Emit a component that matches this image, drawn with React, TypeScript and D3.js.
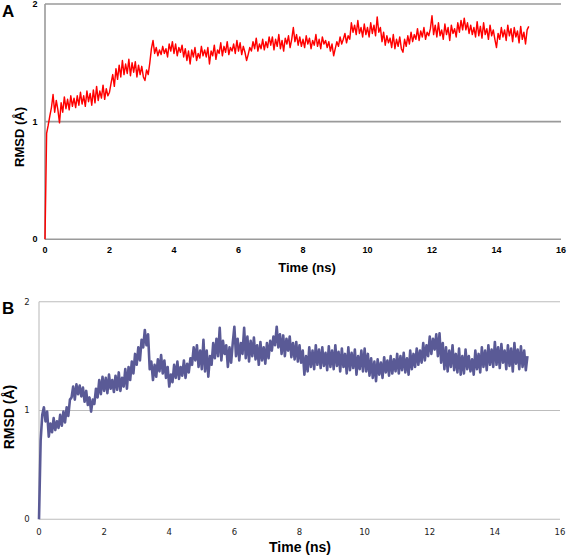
import React from "react";
import * as d3 from "d3";

// Sampling interval of the trajectories (ns)
const timeStepNs = 0.05;
const xTicks = [0, 2, 4, 6, 8, 10, 12, 14, 16];
const yTicks = [0, 1, 2];
const xLabel = "Time (ns)";
const yLabel = "RMSD (Å)";

// Panel A: RMSD (Å), one value per 0.05 ns, 0..15 ns
const rmsdA = [
  0, 0.90, 0.97, 1.05, 1.12, 1.23, 1.08, 1.18, 1.10, 0.99, 1.16, 1.08, 1.21, 1.11, 1.19, 1.10, 1.22, 1.13, 1.20, 1.12,
  1.22, 1.14, 1.25, 1.15, 1.22, 1.13, 1.26, 1.17, 1.24, 1.14, 1.27, 1.16, 1.30, 1.18, 1.26, 1.20, 1.31, 1.19, 1.28, 1.22,
  1.25, 1.33, 1.40, 1.30, 1.45, 1.36, 1.48, 1.38, 1.52, 1.40, 1.49, 1.41, 1.53, 1.39, 1.50, 1.42, 1.51, 1.38, 1.48, 1.40,
  1.47, 1.38, 1.35, 1.44, 1.40, 1.50, 1.62, 1.69, 1.58, 1.63, 1.56, 1.61, 1.57, 1.64, 1.58, 1.62, 1.55, 1.66, 1.60, 1.68,
  1.58, 1.66, 1.56, 1.63, 1.59, 1.65, 1.55, 1.62, 1.52, 1.60, 1.49, 1.61, 1.55, 1.63, 1.52, 1.58, 1.54, 1.64, 1.56, 1.61,
  1.55, 1.63, 1.49, 1.60, 1.56, 1.65, 1.53, 1.61, 1.58, 1.67, 1.56, 1.64, 1.59, 1.68, 1.57, 1.63, 1.60, 1.66, 1.58, 1.69,
  1.60, 1.67, 1.57, 1.64, 1.59, 1.52, 1.57, 1.63, 1.60, 1.68, 1.62, 1.71, 1.60, 1.66, 1.62, 1.70, 1.61, 1.68, 1.63, 1.72,
  1.65, 1.72, 1.61, 1.70, 1.64, 1.74, 1.62, 1.69, 1.60, 1.71, 1.66, 1.73, 1.63, 1.70, 1.80, 1.68, 1.74, 1.65, 1.72, 1.64,
  1.70, 1.63, 1.73, 1.66, 1.71, 1.62, 1.69, 1.65, 1.74, 1.64, 1.70, 1.62, 1.72, 1.66, 1.69, 1.63, 1.68, 1.60, 1.66, 1.56,
  1.62, 1.68, 1.64, 1.72, 1.66, 1.70, 1.75, 1.67, 1.73, 1.70, 1.84, 1.76, 1.82, 1.74, 1.86, 1.75, 1.80, 1.72, 1.83, 1.74,
  1.80, 1.72, 1.84, 1.75, 1.82, 1.73, 1.89, 1.76, 1.80, 1.68, 1.76, 1.65, 1.73, 1.67, 1.71, 1.63, 1.74, 1.62, 1.70, 1.64,
  1.72, 1.62, 1.59, 1.70, 1.64, 1.73, 1.66, 1.76, 1.68, 1.74, 1.70, 1.79, 1.69, 1.77, 1.72, 1.80, 1.70, 1.76, 1.73, 1.79,
  1.90, 1.74, 1.82, 1.72, 1.84, 1.73, 1.78, 1.70, 1.83, 1.74, 1.80, 1.69, 1.82, 1.75, 1.79, 1.72, 1.84, 1.76, 1.86, 1.78,
  1.88, 1.78, 1.84, 1.75, 1.82, 1.74, 1.80, 1.72, 1.85, 1.73, 1.81, 1.71, 1.84, 1.74, 1.79, 1.70, 1.82, 1.73, 1.78, 1.70,
  1.63, 1.75, 1.70, 1.80, 1.72, 1.78, 1.69, 1.82, 1.73, 1.79, 1.68, 1.80, 1.72, 1.77, 1.67, 1.81, 1.70, 1.76, 1.66, 1.78,
  1.81,
];

// Panel B: RMSD (Å), one value per 0.05 ns, 0..15 ns
const rmsdB = [
  0, 0.72, 0.96, 1.03, 0.90, 0.99, 0.76, 0.88, 0.80, 0.93, 0.82, 0.90, 0.84, 0.96, 0.86, 0.99, 0.89, 1.03, 0.95, 1.10,
  1.12, 1.22, 1.10, 1.24, 1.15, 1.23, 1.13, 1.21, 1.08, 1.18, 1.05, 1.12, 0.99, 1.10, 1.06, 1.20, 1.12, 1.28, 1.15, 1.31,
  1.18, 1.30, 1.16, 1.33, 1.20, 1.28, 1.17, 1.32, 1.19, 1.35, 1.18, 1.30, 1.22, 1.38, 1.20, 1.40, 1.28, 1.45, 1.34, 1.52,
  1.42, 1.58, 1.46, 1.65, 1.58, 1.74, 1.60, 1.70, 1.38, 1.45, 1.28, 1.42, 1.31, 1.47, 1.36, 1.51, 1.34, 1.46, 1.30, 1.40,
  1.22, 1.33, 1.26, 1.42, 1.30, 1.45, 1.29, 1.40, 1.32, 1.46, 1.30, 1.43, 1.35, 1.48, 1.42, 1.58, 1.46, 1.60, 1.40, 1.55,
  1.38, 1.65, 1.36, 1.55, 1.31, 1.50, 1.42, 1.62, 1.48, 1.66, 1.50, 1.76, 1.46, 1.64, 1.52, 1.60, 1.40, 1.58, 1.44, 1.62,
  1.77, 1.50, 1.66, 1.46, 1.62, 1.52, 1.76, 1.48, 1.68, 1.45, 1.64, 1.50, 1.67, 1.47, 1.60, 1.42, 1.63, 1.46, 1.58, 1.43,
  1.62, 1.48, 1.64, 1.55, 1.68, 1.60, 1.77, 1.58, 1.70, 1.52, 1.69, 1.50, 1.66, 1.55, 1.68, 1.49, 1.62, 1.47, 1.63, 1.45,
  1.60, 1.44, 1.55, 1.33, 1.50, 1.36, 1.58, 1.40, 1.55, 1.38, 1.60, 1.42, 1.56, 1.39, 1.58, 1.41, 1.53, 1.37, 1.59, 1.40,
  1.55, 1.38, 1.60, 1.41, 1.54, 1.36, 1.57, 1.40, 1.52, 1.34, 1.58, 1.37, 1.53, 1.39, 1.56, 1.33, 1.50, 1.38, 1.55, 1.36,
  1.57, 1.36, 1.52, 1.32, 1.48, 1.30, 1.45, 1.27, 1.47, 1.33, 1.44, 1.30, 1.49, 1.35, 1.46, 1.32, 1.50, 1.34, 1.47, 1.36,
  1.52, 1.34, 1.50, 1.37, 1.53, 1.35, 1.48, 1.33, 1.55, 1.38, 1.52, 1.40, 1.57, 1.42, 1.55, 1.44, 1.62, 1.46, 1.60, 1.50,
  1.68, 1.52, 1.66, 1.56, 1.70, 1.50, 1.71, 1.44, 1.62, 1.38, 1.58, 1.36, 1.55, 1.40, 1.60, 1.37, 1.52, 1.35, 1.57, 1.33,
  1.50, 1.34, 1.56, 1.38, 1.50, 1.36, 1.47, 1.33, 1.55, 1.38, 1.52, 1.35, 1.58, 1.40, 1.55, 1.37, 1.60, 1.42, 1.56, 1.40,
  1.63, 1.42, 1.58, 1.39, 1.61, 1.44, 1.55, 1.38, 1.60, 1.41, 1.57, 1.36, 1.62, 1.43, 1.56, 1.38, 1.59, 1.40, 1.55, 1.37,
  1.50,
];

type PanelProps = {
  data: number[];
  letter: string;
  left: number;
  right: number;
  top: number;
  bottom: number;
  color: string;
  lineWidth: number;
  gridColor: string;
  gridWidth: number;
  tickFont: string;
  tickSize: number;
  tickWeight: string;
  tickColor: string;
  yTickX: number;
  xTickY: number;
  xLabelX: number;
  xLabelY: number;
  labelSize: number;
  yLabelX: number;
  yLabelY: number;
  letterX: number;
  letterY: number;
};

function Panel(p: PanelProps) {
  const x = d3.scaleLinear().domain([0, 16]).range([p.left, p.right]);
  const y = d3.scaleLinear().domain([0, 2]).range([p.bottom, p.top]);
  const line = d3
    .line<number>()
    .x((_, i) => x(i * timeStepNs))
    .y((d) => y(d));
  return (
    <g>
      {yTicks.map((t) => (
        <line
          key={"g" + t}
          x1={p.left}
          x2={p.right}
          y1={y(t)}
          y2={y(t)}
          stroke={p.gridColor}
          strokeWidth={p.gridWidth}
        />
      ))}
      <line x1={p.left} x2={p.left} y1={p.top} y2={p.bottom} stroke={p.gridColor} strokeWidth={p.gridWidth} />
      <path
        d={line(p.data) || ""}
        fill="none"
        stroke={p.color}
        strokeWidth={p.lineWidth}
        strokeLinejoin="round"
      />
      {yTicks.map((t) => (
        <text
          key={"y" + t}
          x={p.yTickX}
          y={y(t)}
          dy="0.35em"
          textAnchor="middle"
          fontFamily={p.tickFont}
          fontSize={p.tickSize}
          fontWeight={p.tickWeight}
          fill={p.tickColor}
        >
          {t}
        </text>
      ))}
      {xTicks.map((t) => (
        <text
          key={"x" + t}
          x={x(t)}
          y={p.xTickY}
          dy="0.35em"
          textAnchor="middle"
          fontFamily={p.tickFont}
          fontSize={p.tickSize}
          fontWeight={p.tickWeight}
          fill={p.tickColor}
        >
          {t}
        </text>
      ))}
      <text
        x={p.xLabelX}
        y={p.xLabelY}
        textAnchor="middle"
        fontFamily="Liberation Sans, Arial, sans-serif"
        fontWeight="bold"
        fontSize={p.labelSize}
        fill="#000"
      >
        {xLabel}
      </text>
      <text
        transform={`translate(${p.yLabelX},${p.yLabelY}) rotate(-90)`}
        textAnchor="middle"
        dy="0.35em"
        fontFamily="Liberation Sans, Arial, sans-serif"
        fontWeight="bold"
        fontSize={p.labelSize}
        fill="#000"
      >
        {yLabel}
      </text>
      <text
        x={p.letterX}
        y={p.letterY}
        fontFamily="Liberation Sans, Arial, sans-serif"
        fontWeight="bold"
        fontSize={17}
        fill="#000"
      >
        {p.letter}
      </text>
    </g>
  );
}

export default function App() {
  return (
    <svg
      width={567}
      height={557}
      style={{ position: "absolute", left: 0, top: 0, background: "#fff" }}
    >
      <rect x={0} y={0} width={567} height={557} fill="#fff" />
      <Panel
        data={rmsdA}
        letter="A"
        left={45}
        right={561}
        top={4}
        bottom={239.3}
        color="#ff0000"
        lineWidth={1.45}
        gridColor="#9a9a9a"
        gridWidth={1.6}
        tickFont="Liberation Sans, Arial, sans-serif"
        tickSize={9}
        tickWeight="bold"
        tickColor="#000"
        yTickX={35}
        xTickY={249.5}
        xLabelX={307}
        xLabelY={272}
        labelSize={13}
        yLabelX={19}
        yLabelY={137}
        letterX={2}
        letterY={17}
      />
      <Panel
        data={rmsdB}
        letter="B"
        left={39}
        right={560}
        top={301.7}
        bottom={519.3}
        color="#5a5a96"
        lineWidth={2.6}
        gridColor="#bdbdbd"
        gridWidth={1.1}
        tickFont="DejaVu Sans, Verdana, sans-serif"
        tickSize={8.5}
        tickWeight="normal"
        tickColor="#222"
        yTickX={27}
        xTickY={532}
        xLabelX={300}
        xLabelY={552}
        labelSize={14}
        yLabelX={9}
        yLabelY={417}
        letterX={2}
        letterY={314}
      />
    </svg>
  );
}
